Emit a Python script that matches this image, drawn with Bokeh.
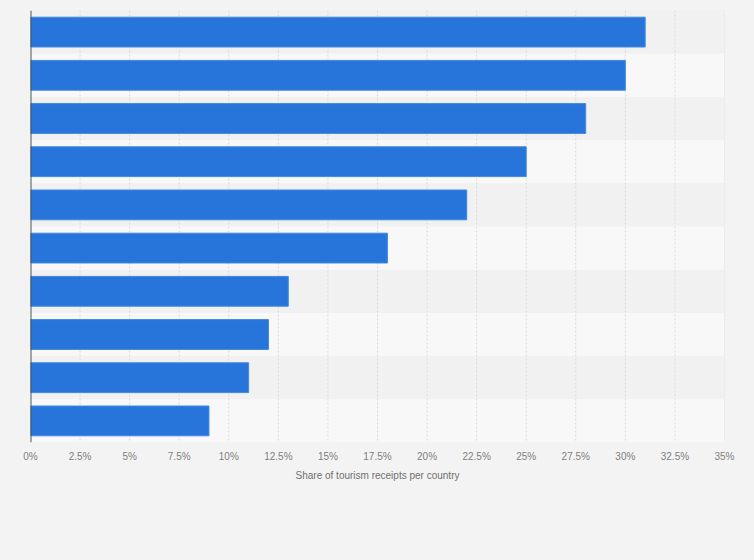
from bokeh.plotting import figure
from bokeh.models import ColumnDataSource, FixedTicker, Span
from bokeh.embed import file_html
from bokeh.resources import INLINE

# data (top to bottom), country names are not shown in the chart
countries = ["C1", "C2", "C3", "C4", "C5", "C6", "C7", "C8", "C9", "C10"]
shares = [31, 30, 28, 25, 22, 18, 13, 12, 11, 9]
ticks = [0, 2.5, 5, 7.5, 10, 12.5, 15, 17.5, 20, 22.5, 25, 27.5, 30, 32.5, 35]
tick_labels = ["0%", "2.5%", "5%", "7.5%", "10%", "12.5%", "15%", "17.5%",
               "20%", "22.5%", "25%", "27.5%", "30%", "32.5%", "35%"]
x_title = "Share of tourism receipts per country"

rows = list(range(1, len(countries) + 1))
source = ColumnDataSource(data={"row": rows, "country": countries, "share": shares})

p = figure(width=754, height=560, output_backend="svg", toolbar_location=None, tools="",
           x_range=(ticks[0], ticks[-1]), y_range=(len(rows) + 0.5, 0.5),
           min_border_left=30, min_border_right=30, min_border_top=10, min_border_bottom=118)

p.background_fill_color = "#f1f1f1"
p.border_fill_color = "#f3f3f3"
p.outline_line_color = None
p.xgrid.visible = False
p.ygrid.visible = False
p.yaxis.visible = False

# alternating lighter row bands
band_rows = rows[1::2]
p.hbar(y=band_rows, left=ticks[0], right=ticks[-1], height=1,
       fill_color="#f8f8f8", line_color=None)

# dashed vertical grid lines
p.segment(x0=ticks[1:], x1=ticks[1:], y0=[0.5] * len(ticks[1:]),
          y1=[len(rows) + 0.5] * len(ticks[1:]),
          line_color="#d9d9d9", line_width=1, line_dash="2 2")

p.hbar(y="row", left=0, right="share", height=0.69, source=source,
       fill_color="#2775db", line_color="#4189e2", line_width=1)

p.add_layout(Span(location=0, dimension="height", line_color="#555555", line_width=2))

p.xaxis.ticker = FixedTicker(ticks=ticks)
p.xaxis.major_label_overrides = dict(zip(ticks, tick_labels))
p.xaxis.axis_line_color = None
p.xaxis.major_tick_line_color = None
p.xaxis.minor_tick_line_color = None
p.xaxis.major_label_standoff = 2
p.xaxis.major_label_text_font = "Liberation Sans"
p.xaxis.major_label_text_font_size = "10px"
p.xaxis.major_label_text_color = "#808080"
p.xaxis.axis_label = x_title
p.xaxis.axis_label_text_font = "Liberation Sans"
p.xaxis.axis_label_text_font_size = "10px"
p.xaxis.axis_label_text_font_style = "normal"
p.xaxis.axis_label_text_color = "#707070"
p.xaxis.axis_label_standoff = 5

html = file_html(p, INLINE)
html = html.replace("<head>", "<head><style>body{background:#f3f3f3;}</style>", 1)
open("out.html", "w").write(html)
